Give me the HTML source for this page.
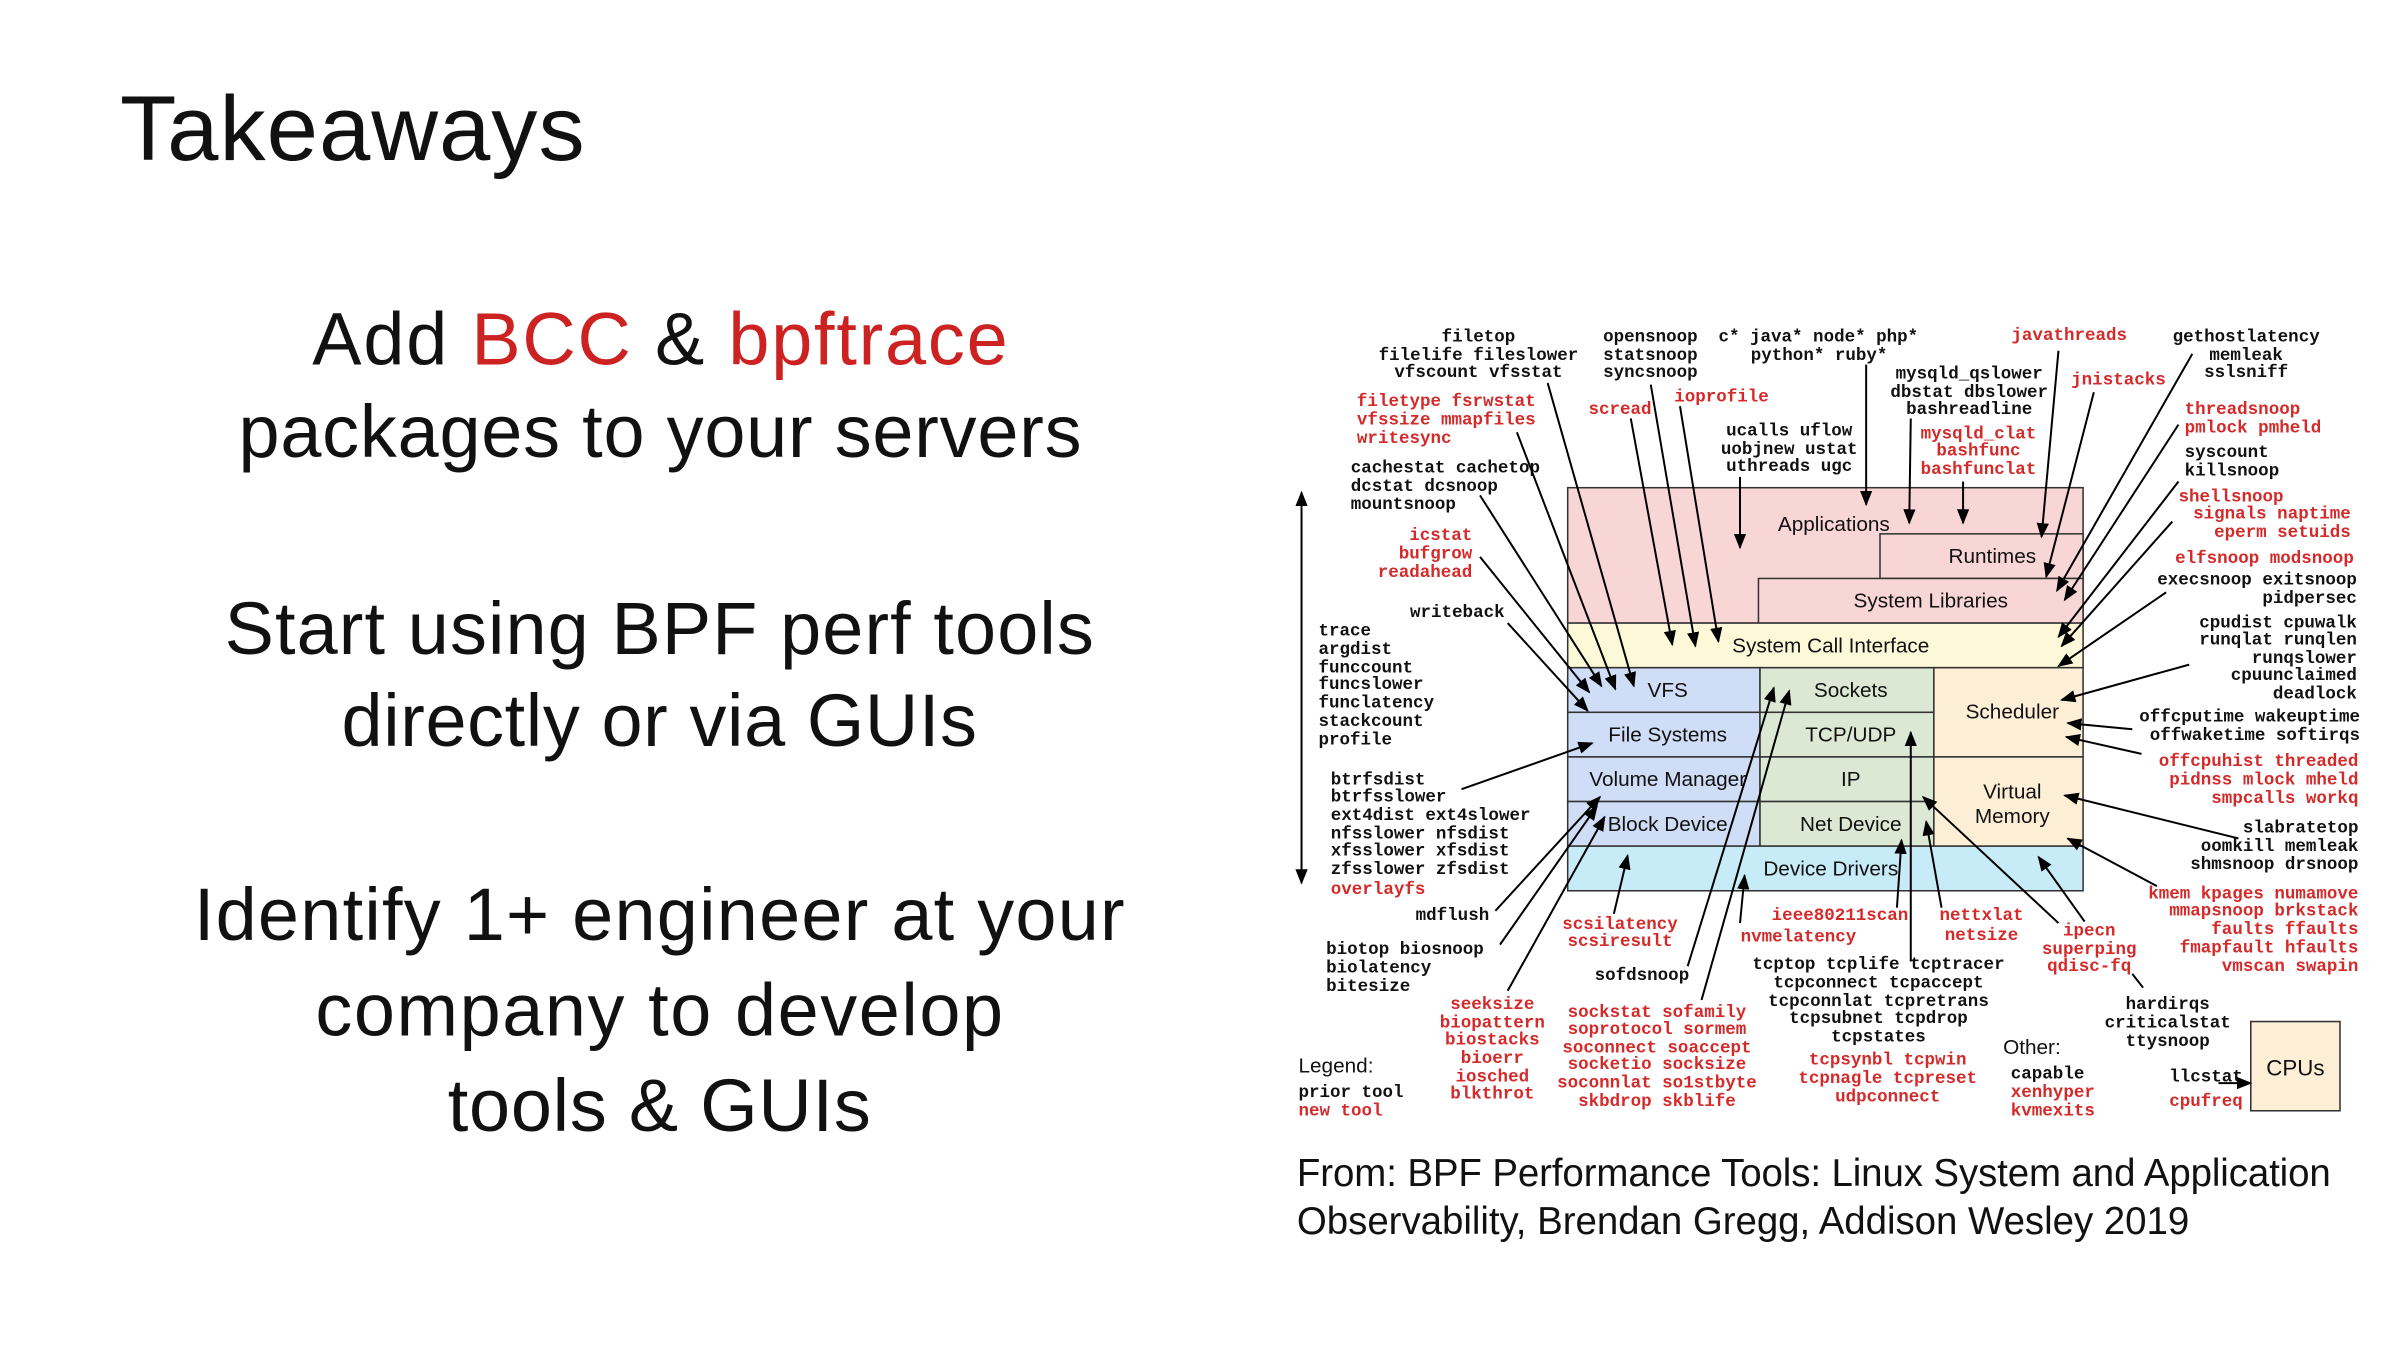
<!DOCTYPE html>
<html><head><meta charset="utf-8"><style>
html,body{margin:0;padding:0;background:#fff;}
svg{display:block}
.t{font-family:"Liberation Sans",sans-serif;}
.m{font-family:"Liberation Mono",monospace;font-weight:bold;font-size:11.4px;fill:#111;}
.r{fill:#d42a2a;}
.b{font-family:"Liberation Sans",sans-serif;font-size:13.5px;fill:#111;}
.bx{stroke:#333;stroke-width:1;}
.a{stroke:#000;stroke-width:1.3;fill:none;marker-end:url(#ah);}
</style></head><body>
<svg width="2400" height="1350" viewBox="0 0 1560 877.5" xmlns="http://www.w3.org/2000/svg">
<defs><marker id="ah" markerWidth="10" markerHeight="8" refX="9" refY="4" orient="auto" markerUnits="userSpaceOnUse"><path d="M0,0 L10,4 L0,8 z" fill="#000"/></marker></defs>
<rect width="1560" height="877.5" fill="#fff"/>
<!-- left text -->
<g class="t" fill="#111">
<text x="78" y="104" font-size="60" textLength="302">Takeaways</text>
<text x="203" y="237" font-size="48" textLength="452"><tspan>Add </tspan><tspan fill="#cc2222">BCC</tspan><tspan> &amp; </tspan><tspan fill="#cc2222">bpftrace</tspan></text>
<text x="155" y="297" font-size="48" textLength="548">packages to your servers</text>
<text x="146" y="425" font-size="48" textLength="565">Start using BPF perf tools</text>
<text x="222" y="485" font-size="48" textLength="413">directly or via GUIs</text>
<text x="126" y="611" font-size="48" textLength="605">Identify 1+ engineer at your</text>
<text x="205" y="673" font-size="48" textLength="447">company to develop</text>
<text x="291" y="735" font-size="48" textLength="275">tools &amp; GUIs</text>
<text x="843" y="771" font-size="25" textLength="672">From: BPF Performance Tools: Linux System and Application</text>
<text x="843" y="802" font-size="25" textLength="580">Observability, Brendan Gregg, Addison Wesley 2019</text>
</g>
<!-- boxes -->
<rect class="bx" x="1019" y="317" width="335" height="88" fill="#f9d6d6"/>
<rect class="bx" x="1222" y="347" width="132" height="29" fill="#f9d6d6"/>
<rect class="bx" x="1143" y="376" width="211" height="29" fill="#f9d6d6"/>
<rect class="bx" x="1019" y="405" width="335" height="29" fill="#fdf9d8"/>
<rect class="bx" x="1019" y="434" width="125" height="29" fill="#d0ddf6"/>
<rect class="bx" x="1019" y="463" width="125" height="29" fill="#d0ddf6"/>
<rect class="bx" x="1019" y="492" width="125" height="29" fill="#d0ddf6"/>
<rect class="bx" x="1019" y="521" width="125" height="29" fill="#d0ddf6"/>
<rect class="bx" x="1144" y="434" width="113" height="29" fill="#dbe8d4"/>
<rect class="bx" x="1144" y="463" width="113" height="29" fill="#dbe8d4"/>
<rect class="bx" x="1144" y="492" width="113" height="29" fill="#dbe8d4"/>
<rect class="bx" x="1144" y="521" width="113" height="29" fill="#dbe8d4"/>
<rect class="bx" x="1257" y="434" width="97" height="58" fill="#fdefd6"/>
<rect class="bx" x="1257" y="492" width="97" height="58" fill="#fdefd6"/>
<rect class="bx" x="1019" y="550" width="335" height="29" fill="#c8ebf8"/>
<rect class="bx" x="1463" y="664" width="58" height="58" fill="#fdefd6"/>
<g class="b" text-anchor="middle">
<text x="1192" y="345">Applications</text>
<text x="1295" y="366">Runtimes</text>
<text x="1255" y="395">System Libraries</text>
<text x="1190" y="424">System Call Interface</text>
<text x="1084" y="453">VFS</text>
<text x="1084" y="482">File Systems</text>
<text x="1084" y="511">Volume Manager</text>
<text x="1084" y="540">Block Device</text>
<text x="1203" y="453">Sockets</text>
<text x="1203" y="482">TCP/UDP</text>
<text x="1203" y="511">IP</text>
<text x="1203" y="540">Net Device</text>
<text x="1308" y="467">Scheduler</text>
<text x="1308" y="519">Virtual</text>
<text x="1308" y="535">Memory</text>
<text x="1190" y="569">Device Drivers</text>
<text x="1492" y="699" font-size="14.5">CPUs</text>
</g>
<text class="b" x="844" y="697" font-size="13">Legend:</text>
<text class="b" x="1302" y="685" font-size="13">Other:</text>
<!-- mono text -->
<g class="m">
<g text-anchor="middle">
<text x="961" y="222">filetop</text><text x="961" y="234">filelife fileslower</text><text x="961" y="245">vfscount vfsstat</text>
<text x="1345" y="221" class="r">javathreads</text>
<text x="1377" y="250" class="r">jnistacks</text>
<text x="1460" y="222">gethostlatency</text><text x="1460" y="234">memleak</text><text x="1460" y="245">sslsniff</text>
<text x="1280" y="246">mysqld_qslower</text><text x="1280" y="258">dbstat dbslower</text><text x="1280" y="269">bashreadline</text>
<text x="1286" y="285" class="r">mysqld_clat</text><text x="1286" y="296" class="r">bashfunc</text><text x="1286" y="308" class="r">bashfunclat</text>
<text x="1163" y="283">ucalls uflow</text><text x="1163" y="295">uobjnew ustat</text><text x="1163" y="306">uthreads ugc</text>
<text x="1053" y="269" class="r">scread</text><text x="1119" y="261" class="r">ioprofile</text>
<text x="970" y="656" class="r">seeksize</text><text x="970" y="668" class="r">biopattern</text><text x="970" y="679" class="r">biostacks</text><text x="970" y="691" class="r">bioerr</text><text x="970" y="703" class="r">iosched</text><text x="970" y="714" class="r">blkthrot</text>
<text x="1053" y="604" class="r">scsilatency</text><text x="1053" y="615" class="r">scsiresult</text>
<text x="1077" y="661" class="r">sockstat sofamily</text><text x="1077" y="672" class="r">soprotocol sormem</text><text x="1077" y="684" class="r">soconnect soaccept</text><text x="1077" y="695" class="r">socketio socksize</text><text x="1077" y="707" class="r">soconnlat so1stbyte</text><text x="1077" y="719" class="r">skbdrop skblife</text>
<text x="1196" y="598" class="r">ieee80211scan</text><text x="1169" y="612" class="r">nvmelatency</text>
<text x="1288" y="598" class="r">nettxlat</text><text x="1288" y="611" class="r">netsize</text>
<text x="1221" y="630">tcptop tcplife tcptracer</text><text x="1221" y="642">tcpconnect tcpaccept</text><text x="1221" y="654">tcpconnlat tcpretrans</text><text x="1221" y="665">tcpsubnet tcpdrop</text><text x="1221" y="677">tcpstates</text>
<text x="1227" y="692" class="r">tcpsynbl tcpwin</text><text x="1227" y="704" class="r">tcpnagle tcpreset</text><text x="1227" y="716" class="r">udpconnect</text>
<text x="1358" y="608" class="r">ipecn</text><text x="1358" y="620" class="r">superping</text><text x="1358" y="631" class="r">qdisc-fq</text>
<text x="1409" y="656">hardirqs</text><text x="1409" y="668">criticalstat</text><text x="1409" y="680">ttysnoop</text>
</g>
<text x="1117" y="222">c* java* node* php*</text><text x="1138" y="234">python* ruby*</text>
<text x="1042" y="222">opensnoop</text><text x="1042" y="234">statsnoop</text><text x="1042" y="245">syncsnoop</text>
<g class="r"><text x="882" y="264">filetype fsrwstat</text><text x="882" y="276">vfssize mmapfiles</text><text x="882" y="288">writesync</text></g>
<text x="878" y="307">cachestat cachetop</text><text x="878" y="319">dcstat dcsnoop</text><text x="878" y="331">mountsnoop</text>
<g text-anchor="end"><text x="957" y="351" class="r">icstat</text><text x="957" y="363" class="r">bufgrow</text><text x="957" y="375" class="r">readahead</text>
<text x="978" y="401">writeback</text><text x="968" y="598">mdflush</text><text x="1098" y="637">sofdsnoop</text></g>
<text x="857" y="413">trace</text><text x="857" y="425">argdist</text><text x="857" y="437">funccount</text><text x="857" y="448">funcslower</text><text x="857" y="460">funclatency</text><text x="857" y="472">stackcount</text><text x="857" y="484">profile</text>
<text x="865" y="510">btrfsdist</text><text x="865" y="521">btrfsslower</text><text x="865" y="533">ext4dist ext4slower</text><text x="865" y="545">nfsslower nfsdist</text><text x="865" y="556">xfsslower xfsdist</text><text x="865" y="568">zfsslower zfsdist</text><text x="865" y="581" class="r">overlayfs</text>
<text x="862" y="620">biotop biosnoop</text><text x="862" y="632">biolatency</text><text x="862" y="644">bitesize</text>
<text x="844" y="713">prior tool</text><text x="844" y="725" class="r">new tool</text>
<text x="1307" y="701">capable</text><text x="1307" y="713" class="r">xenhyper</text><text x="1307" y="725" class="r">kvmexits</text>
<text x="1410" y="703">llcstat</text><text x="1410" y="719" class="r">cpufreq</text>
<text x="1420" y="269" class="r">threadsnoop</text><text x="1420" y="281" class="r">pmlock pmheld</text>
<text x="1420" y="297">syscount</text><text x="1420" y="309">killsnoop</text>
<text x="1416" y="326" class="r">shellsnoop</text>
<g text-anchor="end">
<text x="1528" y="337" class="r">signals naptime</text><text x="1528" y="349" class="r">eperm setuids</text>
<text x="1530" y="366" class="r">elfsnoop modsnoop</text>
<text x="1532" y="380">execsnoop exitsnoop</text><text x="1532" y="392">pidpersec</text>
<text x="1532" y="408">cpudist cpuwalk</text><text x="1532" y="419">runqlat runqlen</text><text x="1532" y="431">runqslower</text><text x="1532" y="442">cpuunclaimed</text><text x="1532" y="454">deadlock</text>
<text x="1534" y="469">offcputime wakeuptime</text><text x="1534" y="481">offwaketime softirqs</text>
<text x="1533" y="498" class="r">offcpuhist threaded</text><text x="1533" y="510" class="r">pidnss mlock mheld</text><text x="1533" y="522" class="r">smpcalls workq</text>
<text x="1533" y="541">slabratetop</text><text x="1533" y="553">oomkill memleak</text><text x="1533" y="565">shmsnoop drsnoop</text>
<text x="1533" y="584" class="r">kmem kpages numamove</text><text x="1533" y="595" class="r">mmapsnoop brkstack</text><text x="1533" y="607" class="r">faults ffaults</text><text x="1533" y="619" class="r">fmapfault hfaults</text><text x="1533" y="631" class="r">vmscan swapin</text>
</g>
</g>
<!-- arrows -->
<g>
<line x1="846" y1="330" x2="846" y2="320" class="a"/>
<line x1="846" y1="330" x2="846" y2="574" class="a"/>
<line x1="1006" y1="249" x2="1062" y2="446" class="a"/>
<line x1="986" y1="281" x2="1050" y2="448" class="a"/>
<line x1="962" y1="322" x2="1041" y2="446" class="a"/>
<line x1="962" y1="362" x2="1033" y2="450" class="a"/>
<line x1="980" y1="405" x2="1032" y2="462" class="a"/>
<line x1="1060" y1="272" x2="1087" y2="419" class="a"/>
<line x1="1073" y1="250" x2="1102" y2="420" class="a"/>
<line x1="1092" y1="264" x2="1117" y2="417" class="a"/>
<line x1="1131" y1="310" x2="1131" y2="356" class="a"/>
<line x1="1213" y1="237" x2="1213" y2="328" class="a"/>
<line x1="1242" y1="272" x2="1241" y2="340" class="a"/>
<line x1="1276" y1="313" x2="1276" y2="340" class="a"/>
<line x1="1338" y1="228" x2="1327" y2="349" class="a"/>
<line x1="1361" y1="255" x2="1330" y2="375" class="a"/>
<line x1="1425" y1="230" x2="1337" y2="384" class="a"/>
<line x1="1416" y1="276" x2="1342" y2="390" class="a"/>
<line x1="1416" y1="313" x2="1338" y2="414" class="a"/>
<line x1="1412" y1="339" x2="1340" y2="420" class="a"/>
<line x1="1408" y1="385" x2="1338" y2="433" class="a"/>
<line x1="1423" y1="432" x2="1340" y2="455" class="a"/>
<line x1="1386" y1="474" x2="1344" y2="470" class="a"/>
<line x1="1392" y1="490" x2="1343" y2="479" class="a"/>
<line x1="1455" y1="545" x2="1342" y2="517" class="a"/>
<line x1="1402" y1="576" x2="1344" y2="545" class="a"/>
<line x1="1355" y1="599" x2="1325" y2="557" class="a"/>
<line x1="1338" y1="600" x2="1250" y2="518" class="a"/>
<line x1="1262" y1="590" x2="1252" y2="534" class="a"/>
<line x1="1242" y1="625" x2="1242" y2="476" class="a"/>
<line x1="1233" y1="590" x2="1236" y2="546" class="a"/>
<line x1="1131" y1="600" x2="1134" y2="569" class="a"/>
<line x1="1049" y1="594" x2="1058" y2="556" class="a"/>
<line x1="1097" y1="628" x2="1153" y2="447" class="a"/>
<line x1="1106" y1="650" x2="1163" y2="449" class="a"/>
<line x1="980" y1="644" x2="1043" y2="531" class="a"/>
<line x1="975" y1="614" x2="1038" y2="524" class="a"/>
<line x1="972" y1="592" x2="1040" y2="518" class="a"/>
<line x1="950" y1="513" x2="1035" y2="483" class="a"/>
<line x1="1442" y1="704" x2="1463" y2="704" class="a"/>
<line x1="1386" y1="633" x2="1393" y2="642" stroke="#000" stroke-width="1.3"/>
</g>
</svg>
</body></html>
